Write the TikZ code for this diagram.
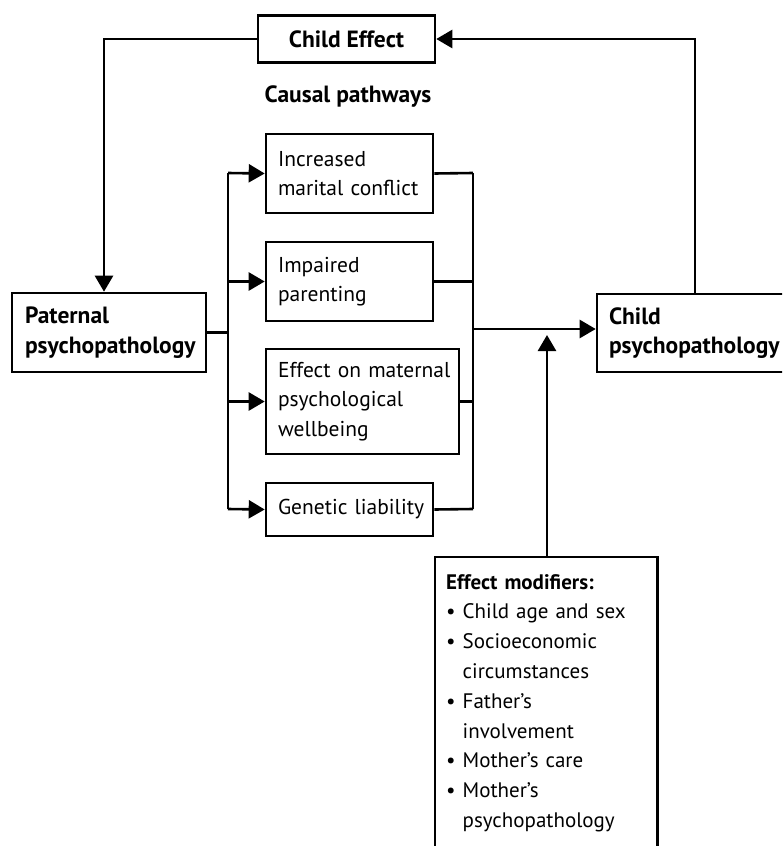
\documentclass[tikz,border=0pt]{standalone}
\usepackage{fontspec}
\setmainfont{PT Sans}
\usetikzlibrary{arrows.meta}
\begin{document}
\begin{tikzpicture}[x=1pt,y=-1pt,
  box/.style={draw=black,line width=2.6pt,rectangle,inner xsep=12pt,inner ysep=0pt,align=left,font=\fontsize{21.5}{29.5}\selectfont},
  boldtxt/.style={font=\fontsize{23.5}{29.5}\selectfont\bfseries},
  conn/.style={line width=2.6pt,draw=black},
  boxline/.style={line width=2.6pt,draw=black},
  arr/.style={conn,-{Triangle[length=16pt,width=18pt]}}]
\useasboundingbox (0,0) rectangle (782,846);
\begin{scope}
\clip (0,0) rectangle (782,846);
% boxes
\node[box,minimum width=177pt,minimum height=47pt,boldtxt,align=center] (ce) at (346.5,39) {Child Effect};
\node[boldtxt] (cp) at (348,97) {Causal pathways};
\node[box,minimum width=167pt,minimum height=79pt,text width=143pt] (inc) at (349.5,173.5) {\mbox{Increased}\\\mbox{marital conflict}};
\node[box,minimum width=167pt,minimum height=79pt,text width=143pt] (imp) at (349.5,281.5) {\mbox{Impaired}\\\mbox{parenting}};
\node[box,minimum width=193pt,minimum height=105pt,text width=169pt] (eff) at (362.5,401.5) {\mbox{Effect on maternal}\\\mbox{psychological}\\\mbox{wellbeing}};
\node[box,minimum width=167pt,minimum height=53pt,text width=143pt] (gen) at (349.5,509.5) {\mbox{Genetic liability}};
\node[box,minimum width=194pt,minimum height=79pt,text width=168pt,boldtxt,inner xsep=13pt] (pat) at (109,332.5) {\mbox{Paternal}\\\mbox{psychopathology}};
\node[box,minimum width=200pt,minimum height=78pt,text width=176pt,boldtxt] (chp) at (697,333) {\mbox{Child}\\\mbox{psychopathology}};
\node[inner xsep=11pt,inner ysep=17pt,text width=200pt,align=left,anchor=north west,font=\fontsize{21}{29.8}\selectfont] (mod) at (435,557)
  {\textbf{Effect modifiers:}\\
   \textbullet\ Child age and sex\\
   \textbullet\ Socioeconomic\\
   \phantom{\textbullet\ }circumstances\\
   \textbullet\ Father’s\\
   \phantom{\textbullet\ }involvement\\
   \textbullet\ Mother’s care\\
   \textbullet\ Mother’s\\
   \phantom{\textbullet\ }psychopathology};
\draw[boxline] (mod.north west |- 0,880) -- (mod.north west) -- (mod.north east) -- (mod.north east |- 0,880);
% coordinates
\coordinate (rx) at (695,37);
\coordinate (lx) at (104,37);
\coordinate (bx) at (228,173);
\coordinate (bb) at (228,509);
\coordinate (mx) at (473,173);
\coordinate (mb) at (473,509);
\coordinate (mm) at (473,329);
\coordinate (tip) at (547,335);
% connectors
\draw[arr] (chp.north -| rx) |- (ce.east);
\draw[arr] (ce.west) -| (pat.north -| lx);
\draw[conn] (pat.east) -- (pat.east -| bx);
\draw[conn] (bx) -- (bb);
\draw[arr] (bx) -- (inc.west);
\draw[arr] (bx |- imp.west) -- (imp.west);
\draw[arr] (bx |- eff.west) -- (eff.west);
\draw[arr] (bb) -- (gen.west);
\draw[conn] (inc.east) -- (mx);
\draw[conn] (imp.east) -- (imp.east -| mx);
\draw[conn] (eff.east) -- (eff.east -| mx);
\draw[conn] (gen.east) -- (mb);
\draw[conn] (mx) -- (mb);
\draw[arr] (mm) -- (mm -| chp.west);
\draw[arr] (mod.north -| tip) -- (tip);
\end{scope}
\end{tikzpicture}
\end{document}
